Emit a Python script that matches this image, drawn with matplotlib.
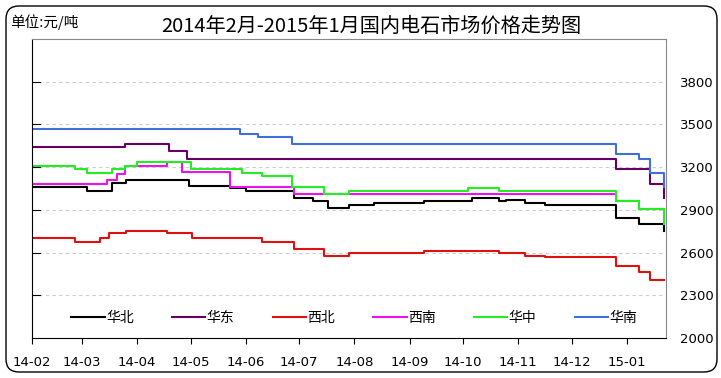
import numpy as np
import pandas as pd
import matplotlib
matplotlib.use('Agg')
import matplotlib.pyplot as plt
import matplotlib.dates as mdates
from matplotlib.patches import FancyBboxPatch

plt.rcParams['font.family'] = ['Noto Sans CJK SC', 'DejaVu Sans']

# price change points (date, yuan/ton)
north_dates = ['2014-02-01', '2014-03-04', '2014-03-18', '2014-03-26', '2014-04-30', '2014-05-23',
               '2014-06-01', '2014-06-28', '2014-07-09', '2014-07-17', '2014-07-29', '2014-08-12',
               '2014-09-09', '2014-10-06', '2014-10-21', '2014-10-25', '2014-11-05', '2014-11-16',
               '2014-12-26', '2015-01-08', '2015-01-22']
north_vals = [3060, 3030, 3090, 3110, 3070, 3055, 3030, 2980, 2960, 2910, 2935, 2950,
              2960, 2980, 2960, 2970, 2950, 2935, 2845, 2800, 2750]

east_dates = ['2014-02-01', '2014-03-25', '2014-04-19', '2014-04-29', '2014-12-26', '2015-01-14',
              '2015-01-22']
east_vals = [3340, 3365, 3315, 3260, 3190, 3085, 2980]

nw_dates = ['2014-02-01', '2014-02-25', '2014-03-11', '2014-03-16', '2014-03-26', '2014-04-18',
            '2014-05-02', '2014-06-10', '2014-06-28', '2014-07-15', '2014-07-29', '2014-09-09',
            '2014-10-21', '2014-11-05', '2014-11-16', '2014-12-26', '2015-01-08', '2015-01-14',
            '2015-01-22']
nw_vals = [2705, 2675, 2705, 2735, 2755, 2735, 2705, 2675, 2625, 2575, 2600, 2610,
           2600, 2575, 2570, 2505, 2465, 2405, 2405]

sw_dates = ['2014-02-01', '2014-03-15', '2014-03-21', '2014-03-25', '2014-04-18', '2014-04-26',
            '2014-05-23', '2014-06-28', '2014-12-26', '2015-01-08', '2015-01-22']
sw_vals = [3085, 3110, 3150, 3205, 3235, 3165, 3060, 3010, 2960, 2905, 2800]

central_dates = ['2014-02-01', '2014-02-25', '2014-03-04', '2014-03-18', '2014-03-25', '2014-04-01',
                 '2014-05-01', '2014-05-30', '2014-06-10', '2014-06-27', '2014-07-15', '2014-07-29',
                 '2014-10-04', '2014-10-21', '2014-12-26', '2015-01-08', '2015-01-22']
central_vals = [3210, 3190, 3160, 3185, 3210, 3235, 3190, 3160, 3140, 3060, 3010, 3030,
                3055, 3030, 2960, 2905, 2800]

south_dates = ['2014-02-01', '2014-05-29', '2014-06-08', '2014-06-27', '2014-12-26', '2015-01-08',
               '2015-01-14', '2015-01-22']
south_vals = [3465, 3435, 3415, 3365, 3290, 3260, 3160, 3060]

names = ['华北', '华东', '西北', '西南', '华中', '华南']
colors = ['#000000', '#660066', '#e01010', '#ee11ee', '#22ee22', '#3f6fd8']
series = [(north_dates, north_vals), (east_dates, east_vals), (nw_dates, nw_vals),
          (sw_dates, sw_vals), (central_dates, central_vals), (south_dates, south_vals)]

month_labels = ['14-02', '14-03', '14-04', '14-05', '14-06', '14-07', '14-08',
                '14-09', '14-10', '14-11', '14-12', '15-01']
y_ticks = [2000, 2300, 2600, 2900, 3200, 3500, 3800]

W, H = 721, 378
fig = plt.figure(figsize=(W / 100, H / 100), dpi=100)

# rounded outer frame
bg = fig.add_axes([0, 0, 1, 1])
bg.set_xlim(0, W)
bg.set_ylim(0, H)
bg.axis('off')
bg.add_patch(FancyBboxPatch((6, 6), 711, 366, boxstyle='round,pad=0,rounding_size=13',
                            fc='white', ec='black', lw=1))

ax = fig.add_axes([32 / W, 1 - 338 / H, (666 - 32) / W, (338 - 39) / H])
for (d, v), c, n in zip(series, colors, names):
    ax.step(pd.to_datetime(d), v, where='post', color=c, lw=1.5, label=n)

ax.set_ylim(2000, 4100)
ax.set_xlim(pd.Timestamp('2014-02-01'), pd.Timestamp('2015-01-23'))

ax.yaxis.tick_right()
ax.set_yticks(y_ticks)
ax.set_yticklabels([str(t) for t in y_ticks], fontsize=9.5, family='DejaVu Sans')
ax.tick_params(axis='y', length=0, pad=10)
for t in y_ticks[1:]:
    ax.axhline(t, color='#cccccc', lw=0.8, ls=(0, (3, 3)), zorder=0)
    ax.plot([0, 0.012], [t, t], transform=ax.get_yaxis_transform(), color='black', lw=0.8)

ticks = pd.date_range('2014-02-01', '2015-01-01', freq='MS')
ax.set_xticks(ticks)
ax.set_xticklabels(month_labels, fontsize=9.5, family='DejaVu Sans')
ax.tick_params(axis='x', direction='out', length=4, pad=9)

ax.spines['left'].set_color('black')
ax.spines['bottom'].set_color('black')
ax.spines['right'].set_color('#888888')
ax.spines['top'].set_color('#888888')

ax.legend(ncol=6, loc='center', bbox_to_anchor=(0.508, 0.067), frameon=False,
          handlelength=2.4, handletextpad=0.1, columnspacing=2.75, fontsize=10)

fig.text(371 / W, 1 - 26 / H, '2014年2月-2015年1月国内电石市场价格走势图', ha='center', va='center',
         fontsize=14.5)
fig.text(10 / W, 1 - 22 / H, '单位:元/吨', ha='left', va='center', fontsize=10.5)

fig.savefig('out.png', dpi=100)
